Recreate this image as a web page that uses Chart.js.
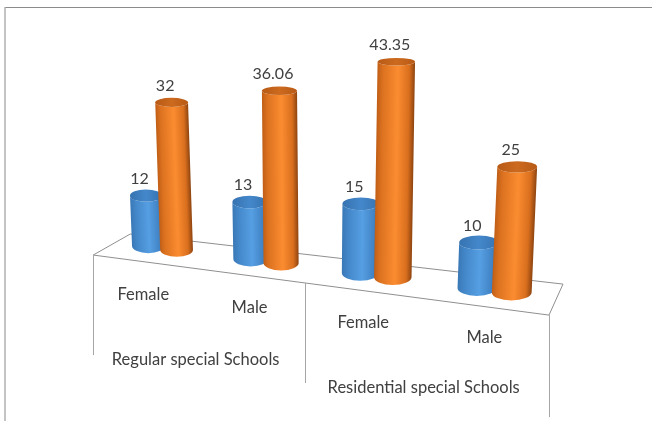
<!DOCTYPE html>
<html>
<head>
<meta charset="utf-8">
<title>Special schools by sex</title>
<script src="https://cdn.jsdelivr.net/npm/chart.js@4"></script>
<style>
  html, body { margin: 0; padding: 0; background: #ffffff; }
  canvas { display: block; }
</style>
</head>
<body>
<canvas id="chart" width="652" height="421"></canvas>
<script>
// Values per category
const categories = ['Female', 'Male', 'Female', 'Male'];
const groupLabels = ['Regular special Schools', 'Residential special Schools'];
const blueValues = [12, 13, 15, 10];
const orangeValues = [32, 36.06, 43.35, 25];

const FONT = 'Lato, "Noto Sans", sans-serif';
const TEXT = '#404040';
const LINE = '#a6a6a6';

// The flat chart plane is turned into a receding floor by this projection.
const view = {
  xStart: 162.25, xStep: 99.9, xCurve: 3.6,      // group index -> floor x
  floorY0: 246, floorX0: 148, floorSlope: 0.1277, // line the cylinders stand on
  unit0: 4.8, unitX0: 162, unitSlope: 0.00144,    // screen px per value unit
  zeroDrop: 7,
  leanX: 322, lean: 0.00023                       // verticals converge downward
};

function groupPos(chart, px) {
  const s = chart.scales.x;
  const a = s.getPixelForTick(0), b = s.getPixelForTick(1);
  return (px - a) / (b - a);
}
function floorX(chart, px) {
  const g = groupPos(chart, px);
  return view.xStart + view.xStep * g + view.xCurve * g * g;
}
function floorY(sx) {
  return view.floorY0 + (sx - view.floorX0) * view.floorSlope;
}
function valueHeight(chart, py, sx) {
  const s = chart.scales.y;
  const perUnit = s.getPixelForValue(0) - s.getPixelForValue(1);
  const v = (s.getPixelForValue(0) - py) / perUnit;
  const unit = view.unit0 + (sx - view.unitX0) * view.unitSlope;
  return v * unit - view.zeroDrop;
}
function capRadius(y) {
  return 2.7 + y * 0.018;
}

const palettes = {
  blue: {
    stops: [[0, '#3a78b6'], [0.18, '#4488ca'], [0.55, '#559fe2'], [0.85, '#4284c6'], [1, '#2e6aa5']],
    cap: ['#3672b0', '#4488cb']
  },
  orange: {
    stops: [[0, '#c05e16'], [0.15, '#dc7220'], [0.55, '#fb8c30'], [0.85, '#d96f1e'], [1, '#8e4410']],
    cap: ['#b85a16', '#cc6a1e']
  }
};

// Bar controller that paints each bar element as an upright cylinder.
// Painting is driven from the plugin below so the later series overlaps the earlier one.
class CylinderController extends Chart.BarController {
  draw() {}
  paintCylinders() {
    const chart = this.chart;
    const ctx = chart.ctx;
    const meta = this._cachedMeta;
    const pal = palettes[this.getDataset().palette];
    meta.data.forEach((el) => {
      const props = el.getProps(['x', 'y', 'width']);
      const sx = floorX(chart, props.x);
      const rx = (floorX(chart, props.x + props.width / 2) - floorX(chart, props.x - props.width / 2)) / 2;
      const by = floorY(sx);
      const h = valueHeight(chart, props.y, sx);
      const shear = (sx - view.leanX) * view.lean;
      const topY = by - h;
      const rTop = capRadius(topY);
      const rBot = capRadius(by);

      ctx.save();
      // local frame: origin at the foot of the cylinder, x axis along its width
      ctx.transform(1, 0, -shear, 1, sx, by);
      const grad = ctx.createLinearGradient(-rx, 0, rx, 0);
      pal.stops.forEach(([o, c]) => grad.addColorStop(o, c));
      ctx.fillStyle = grad;
      ctx.beginPath();
      ctx.moveTo(-rx, -h);
      ctx.lineTo(-rx, 0);
      ctx.ellipse(0, 0, rx, rBot, 0, Math.PI, 0, true);
      ctx.lineTo(rx, -h);
      ctx.ellipse(0, -h, rx, rTop, 0, 0, Math.PI, false);
      ctx.closePath();
      ctx.fill();

      const capGrad = ctx.createLinearGradient(-rx, 0, rx, 0);
      capGrad.addColorStop(0, pal.cap[0]);
      capGrad.addColorStop(0.5, pal.cap[1]);
      capGrad.addColorStop(1, pal.cap[0]);
      ctx.fillStyle = capGrad;
      ctx.beginPath();
      ctx.ellipse(0, -h, rx, rTop, 0, 0, Math.PI * 2);
      ctx.fill();
      ctx.restore();
    });
  }
}
CylinderController.id = 'cylinder';
CylinderController.defaults = Chart.BarController.defaults;
CylinderController.overrides = Chart.BarController.overrides;
Chart.register(CylinderController);

// Outer frame, floor and the drop lines that separate the category groups
const floorPlugin = {
  id: 'floor',
  beforeDatasetsDraw(chart) {
    const ctx = chart.ctx;
    const s = chart.scales.x;
    const w = s.getPixelForTick(1) - s.getPixelForTick(0);
    const left = s.getPixelForTick(0) - w / 2;
    const mid = s.getPixelForTick(1) + w / 2;
    const right = s.getPixelForTick(3) + w / 2;
    const lx = floorX(chart, left), mx = floorX(chart, mid), rx = floorX(chart, right);

    const frontLeft = [lx - 20, floorY(lx) + 13.5];
    const frontRight = [rx - 7, floorY(rx) + 17];
    const backLeft = [lx + 17, floorY(lx) - 7.5];
    const backRight = [rx + 7, floorY(rx) - 14];
    const divider = [mx - 15, frontLeft[1] + (mx - 15 - frontLeft[0]) * 0.1316];

    ctx.save();
    // frame
    ctx.lineWidth = 1.2;
    ctx.strokeStyle = '#8c8c8c';
    ctx.beginPath();
    ctx.moveTo(652, 7.5);
    ctx.lineTo(5, 7.5);
    ctx.stroke();
    ctx.strokeStyle = '#b0b0b0';
    ctx.lineWidth = 1.5;
    ctx.beginPath();
    ctx.moveTo(5, 7);
    ctx.lineTo(5, 421);
    ctx.stroke();

    // floor outline
    ctx.lineWidth = 1;
    ctx.strokeStyle = '#8f8f8f';
    ctx.beginPath();
    ctx.moveTo(...backLeft);
    ctx.lineTo(...backRight);
    ctx.lineTo(...frontRight);
    ctx.lineTo(...frontLeft);
    ctx.lineTo(...backLeft);
    ctx.stroke();

    // drop lines
    ctx.strokeStyle = LINE;
    [[frontLeft, 100], [divider, 100], [frontRight, 102]].forEach(([p, len]) => {
      ctx.beginPath();
      ctx.moveTo(Math.round(p[0]) + 0.5, p[1]);
      ctx.lineTo(Math.round(p[0]) + 0.5, p[1] + len);
      ctx.stroke();
    });
    ctx.restore();
  },
  afterDatasetsDraw(chart) {
    const ctx = chart.ctx;
    const s = chart.scales.x;

    chart.data.datasets.forEach((ds, di) => {
      chart.getDatasetMeta(di).controller.paintCylinders();
    });

    // Value labels above the caps and the two tiers of category labels
    ctx.save();
    ctx.textAlign = 'center';
    ctx.textBaseline = 'middle';
    ctx.fillStyle = TEXT;

    ctx.font = '16px ' + FONT;
    chart.data.datasets.forEach((ds, di) => {
      chart.getDatasetMeta(di).data.forEach((el, i) => {
        const sx = floorX(chart, el.x);
        const h = valueHeight(chart, el.y, sx);
        const topY = floorY(sx) - h;
        const topX = sx + (sx - view.leanX) * view.lean * h;
        ctx.fillText(String(ds.data[i]), topX - 6.5, topY - 17);
      });
    });

    ctx.font = '16.5px ' + FONT;
    categories.forEach((label, i) => {
      const sx = floorX(chart, s.getPixelForTick(i));
      const shift = -19 + (sx - view.xStart) * 0.027;
      ctx.fillText(label, sx + shift, floorY(sx) + 47);
    });
    groupLabels.forEach((label, i) => {
      const centre = (s.getPixelForTick(i * 2) + s.getPixelForTick(i * 2 + 1)) / 2;
      const sx = floorX(chart, centre);
      const shift = -19 + (sx - view.xStart) * 0.03;
      ctx.fillText(label, sx + shift, floorY(sx) + 105.5);
    });
    ctx.restore();
  }
};

new Chart(document.getElementById('chart'), {
  type: 'cylinder',
  data: {
    labels: categories,
    datasets: [
      { label: 'Blue series', data: blueValues, palette: 'blue', backgroundColor: '#4a90d2' },
      { label: 'Orange series', data: orangeValues, palette: 'orange', backgroundColor: '#f58a30' }
    ]
  },
  options: {
    responsive: false,
    animation: false,
    layout: { padding: 0 },
    plugins: { legend: { display: false }, tooltip: { enabled: false } },
    datasets: { cylinder: { categoryPercentage: 0.57, barPercentage: 1.14 } },
    scales: {
      x: { type: 'category', display: false, offset: true },
      y: { type: 'linear', display: false, min: 0, max: 84 }
    }
  },
  plugins: [floorPlugin]
});
</script>
</body>
</html>
